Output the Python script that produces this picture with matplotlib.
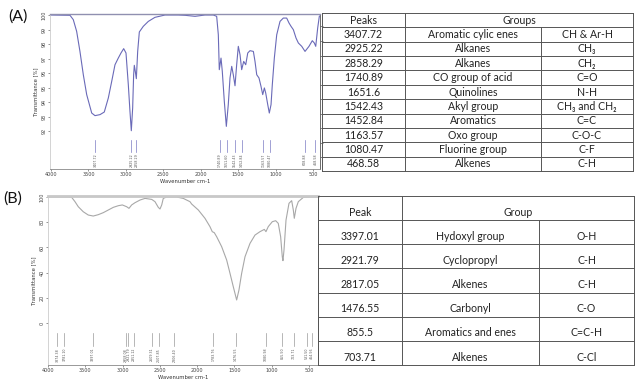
import numpy as np
import matplotlib
matplotlib.use("Agg")
import matplotlib.pyplot as plt
import matplotlib.transforms as mtransforms

# ---- spectrum A ----
wn_a = [4000, 3746, 3702, 3657, 3613, 3568, 3523, 3456, 3412, 3345, 3288, 3234,
        3189, 3145, 3101, 3065, 3029, 2998, 2967, 2945, 2927, 2909, 2896, 2887,
        2874, 2860, 2842, 2820, 2767, 2700, 2611, 2477, 2300, 2210, 2076, 1943,
        1832, 1787, 1765, 1752, 1729, 1712, 1685, 1658, 1632, 1609, 1586, 1565,
        1542, 1520, 1498, 1475, 1453, 1426, 1399, 1372, 1342, 1297, 1275, 1252,
        1222, 1195, 1172, 1150, 1132, 1105, 1084, 1061, 1044, 1017, 985, 941,
        897, 852, 821, 794, 763, 727, 696, 651, 607, 554, 510, 483, 464, 438,
        416, 393]
tr_a = [100.0, 99.98, 99.68, 98.87, 97.49, 95.88, 94.51, 93.24, 93.06, 93.13,
        93.31, 94.28, 95.42, 96.57, 97.03, 97.38, 97.68, 97.38, 95.19, 93.35,
        92.02, 93.59, 95.88, 96.53, 96.12, 95.61, 97.49, 98.83, 99.22, 99.56,
        99.84, 100.0, 100.0, 99.98, 99.91, 100.0, 100.0, 99.91, 98.64, 96.23,
        97.03, 96.12, 94.05, 92.32, 93.82, 95.66, 96.46, 95.88, 95.12, 96.57,
        97.84, 97.26, 96.23, 96.80, 96.57, 97.38, 97.54, 97.49, 96.80, 95.88,
        95.66, 95.08, 94.51, 94.97, 94.62, 93.82, 93.24, 93.82, 95.19, 97.03,
        98.64, 99.56, 99.79, 99.79, 99.45, 99.22, 98.99, 98.41, 98.07, 97.84,
        97.49, 97.84, 98.23, 98.07, 97.84, 99.10, 99.91, 100.0]
peaks_a = [3407.72, 2925.22, 2858.29, 1740.89, 1651.60, 1542.43, 1452.84,
           1163.57, 1080.47, 608.88, 468.58]

# ---- spectrum B ----
wn_b = [4000, 3951, 3727, 3682, 3638, 3594, 3527, 3460, 3393, 3325, 3258, 3191,
        3124, 3057, 3003, 2945, 2914, 2878, 2833, 2766, 2699, 2609, 2565, 2521,
        2498, 2475, 2454, 2409, 2274, 2186, 2096, 2073, 1984, 1895, 1828, 1797,
        1770, 1738, 1671, 1604, 1559, 1515, 1470, 1439, 1403, 1358, 1291, 1224,
        1157, 1099, 1077, 1046, 992, 947, 912, 880, 858, 849, 835, 808, 768,
        732, 710, 697, 674, 643, 576, 487, 380]
tr_b = [100.0, 100.0, 100.0, 99.7, 96.3, 92.3, 88.3, 85.7, 84.9, 86.0, 87.6,
        89.7, 91.8, 93.1, 93.7, 92.3, 91.0, 93.7, 95.5, 97.6, 98.9, 98.1, 96.3,
        91.8, 90.5, 93.7, 98.9, 100.0, 100.0, 98.9, 96.3, 94.4, 89.7, 83.1,
        76.5, 72.5, 71.7, 68.5, 60.6, 50.0, 39.4, 28.8, 18.3, 26.2, 39.4, 52.6,
        63.2, 69.8, 72.5, 74.3, 72.5, 76.5, 80.4, 81.2, 79.1, 68.5, 52.6, 49.5,
        57.9, 81.7, 95.0, 97.1, 89.7, 83.1, 91.0, 96.3, 99.7, 100.0, 100.0]
peaks_b = [3874.38, 3781.10, 3397.01, 2958.08, 2921.79, 2851.12, 2609.31,
           2507.85, 2306.40, 1783.76, 1476.55, 1080.98, 855.50, 703.71,
           531.50, 464.56]

# ---- tables ----
tab_a_peaks = ["3407.72", "2925.22", "2858.29", "1740.89", "1651.6", "1542.43",
               "1452.84", "1163.57", "1080.47", "468.58"]
tab_a_groups = ["Aromatic cylic enes", "Alkanes", "Alkanes", "CO group of acid",
                "Quinolines", "Akyl group", "Aromatics", "Oxo group",
                "Fluorine group", "Alkenes"]
tab_a_bonds = ["CH & Ar-H", "CH\u2083", "CH\u2082", "C=O", "N-H",
               "CH\u2083 and CH\u2082", "C=C", "C-O-C", "C-F", "C-H"]

tab_b_peaks = ["3397.01", "2921.79", "2817.05", "1476.55", "855.5", "703.71"]
tab_b_groups = ["Hydoxyl group", "Cyclopropyl", "Alkenes", "Carbonyl",
                "Aromatics and enes", "Alkenes"]
tab_b_bonds = ["O-H", "C-H", "C-H", "C-O", "C=C-H", "C-Cl"]

W, H = 636, 385
fig = plt.figure(figsize=(W / 100, H / 100), dpi=100)
fig.patch.set_facecolor("white")
tfont = ["Lato", "DejaVu Sans"]


def box(x0, y0, x1, y1):
    """pixel box (top-left origin) -> figure fraction rect"""
    return [x0 / W, 1 - y1 / H, (x1 - x0) / W, (y1 - y0) / H]


def spectrum(rect, wn, tr, xlim, ylim, yticks, peaks, col, mcol, mark_y, top_col, top_lw, rticks):
    ax = fig.add_axes(rect)
    ax.plot(wn, tr, color=col, lw=0.8)
    ax.set_xlim(*xlim)
    ax.set_ylim(*ylim)
    ax.set_xticks([4000, 3500, 3000, 2500, 2000, 1500, 1000, 500])
    ax.set_yticks(yticks)
    ax.tick_params(labelsize=3.5, length=1.5, width=0.4, colors="#444444", pad=1)
    for lab in ax.get_yticklabels():
        lab.set_rotation(90)
        lab.set_va("center")
    ax.set_xlabel("Wavenumber cm-1", fontsize=3.8, labelpad=1, color="#333333")
    ax.set_ylabel("Transmittance [%]", fontsize=3.8, labelpad=2, color="#333333")
    ax.spines["left"].set_color("#cccccc")
    ax.spines["bottom"].set_color("#888888")
    ax.spines["top"].set_color(top_col)
    ax.spines["top"].set_linewidth(top_lw)
    ax.spines["right"].set_color("#555555")
    for s in ax.spines.values():
        if s is not ax.spines["top"]:
            s.set_linewidth(0.6)
    trans = mtransforms.blended_transform_factory(ax.transData, ax.transAxes)
    for p in peaks:
        ax.plot([p, p], [mark_y[0], mark_y[1]], color=mcol, lw=0.5, transform=trans)
        ax.text(p, mark_y[1] - 0.01, "%.2f" % p, rotation=90, fontsize=2.3,
                ha="center", va="top", color="#555555", transform=trans)
    ra = ax.twinx()
    ra.set_ylim(0, 1)
    ra.set_yticks(rticks)
    ra.set_yticklabels([])
    ra.tick_params(length=2, width=0.5, colors="#555555")
    for s in ra.spines.values():
        s.set_visible(False)
    return ax


# A
ra_ticks = [(169 - y) / 155 for y in [26, 41, 56, 70, 85, 99, 114, 128, 143, 157]]
spectrum(box(50, 14, 320, 169), wn_a, tr_a, (4013, 407), (89.38, 100.07),
         [92, 93, 94, 95, 96, 97, 98, 99, 100], peaks_a, "#6a6ab8", "#7b7bc4",
         (0.187, 0.110), "#9090b0", 1.0, ra_ticks)

# B
rb_ticks = [(365 - y) / 169 for y in [220, 244, 268, 293, 317, 341]]
spectrum(box(48, 196, 318, 365), wn_b, tr_b, (4000, 379), (-33.3, 100.8),
         [0, 20, 40, 60, 80, 100], peaks_b, "#a8a8a8", "#9a9a9a",
         (0.189, 0.112), "#c8c8c8", 2.0, rb_ticks)

fig.text(8 / W, 1 - 17 / H, "(A)", fontsize=11.5, family=tfont, va="center", color="#111111")
fig.text(3 / W, 1 - 199 / H, "(B)", fontsize=11.5, family=tfont, va="center", color="#111111")


def table(rect, cols, header, peaks, groups, bonds, text_off):
    ax = fig.add_axes(rect)
    ax.set_xlim(0, 1)
    nrow = len(peaks) + 1
    ax.set_ylim(0, nrow)
    ax.axis("off")
    lc = "#555555"
    lw = 0.7
    for r in range(nrow + 1):
        ax.plot([0, 1], [r, r], color=lc, lw=lw, clip_on=False)
    ax.plot([0, 0], [0, nrow], color=lc, lw=lw, clip_on=False)
    ax.plot([1, 1], [0, nrow], color=lc, lw=lw, clip_on=False)
    ax.plot([cols[0], cols[0]], [0, nrow], color=lc, lw=lw, clip_on=False)
    ax.plot([cols[1], cols[1]], [0, nrow - 1], color=lc, lw=lw, clip_on=False)
    fs = 7.6
    yh = nrow - 1 + text_off
    ax.text(cols[0] / 2, yh, header[0], ha="center", va="center", fontsize=fs,
            family=tfont, color="#222222")
    ax.text((cols[0] + 1) / 2, yh, header[1], ha="center", va="center",
            fontsize=fs, family=tfont, color="#222222")
    for i in range(len(peaks)):
        y = nrow - 2 - i + text_off
        ax.text(cols[0] / 2, y, peaks[i], ha="center", va="center", fontsize=fs,
                family=tfont, color="#222222")
        ax.text((cols[0] + cols[1]) / 2, y, groups[i], ha="center", va="center",
                fontsize=fs, family=tfont, color="#222222")
        ax.text((cols[1] + 1) / 2, y, bonds[i], ha="center", va="center",
                fontsize=fs, family=tfont, color="#222222")


table(box(322, 13, 633, 171), [(405 - 322) / 311, (541 - 322) / 311],
      ["Peaks", "Groups"], tab_a_peaks, tab_a_groups, tab_a_bonds, 0.5)
table(box(318, 196, 634, 365), [(402 - 318) / 316, (539 - 318) / 316],
      ["Peak", "Group"], tab_b_peaks, tab_b_groups, tab_b_bonds, 0.33)

fig.savefig("out.png", dpi=100, facecolor="white")
